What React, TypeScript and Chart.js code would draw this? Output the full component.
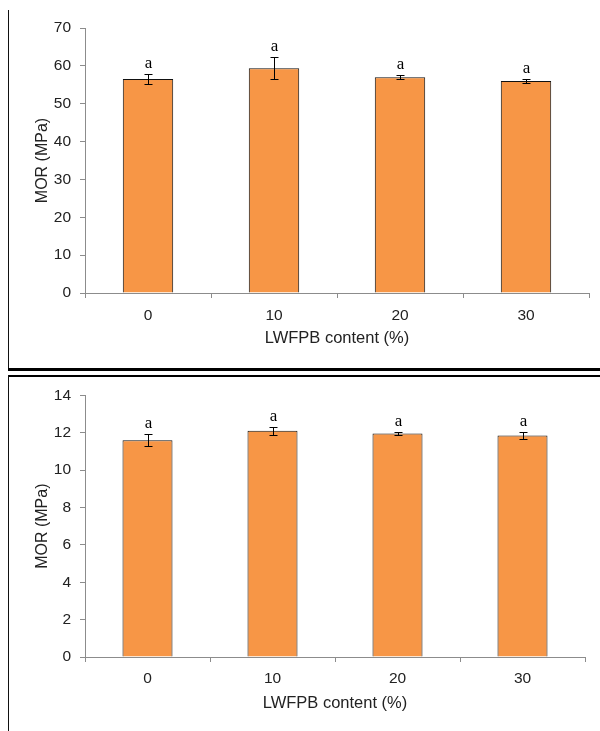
import React, { useEffect, useRef } from "react";
import { Chart, registerables } from "chart.js";

Chart.register(...registerables);

const categories = ["0", "10", "20", "30"];

const topValues = [56.5, 59.4, 57.0, 56.0];
const topErrors = [1.3, 3.0, 0.5, 0.6];
const topLetters = ["a", "a", "a", "a"];
const topYMax = 70;
const topYStep = 10;

const bottomValues = [11.6, 12.1, 11.95, 11.85];
const bottomErrors = [0.32, 0.21, 0.1, 0.2];
const bottomLetters = ["a", "a", "a", "a"];
const bottomYMax = 14;
const bottomYStep = 2;

const yTitle = "MOR (MPa)";
const xTitle = "LWFPB content (%)";

const SANS = '"Liberation Sans", Arial, sans-serif';
const SERIF = '"Liberation Serif", "Times New Roman", serif';

function makeErrorPlugin(values: number[], errors: number[], letters: string[]) {
  return {
    id: "errbars",
    afterDatasetsDraw(chart: any) {
      const ctx = chart.ctx;
      const meta = chart.getDatasetMeta(0);
      const ys = chart.scales.y;
      ctx.save();
      ctx.strokeStyle = "#000";
      ctx.lineWidth = 1;
      meta.data.forEach((bar: any, i: number) => {
        const x = Math.round(bar.x) + 0.5;
        const yHi = Math.round(ys.getPixelForValue(values[i] + errors[i])) + 0.5;
        const yLo = Math.round(ys.getPixelForValue(values[i] - errors[i])) + 0.5;
        ctx.beginPath();
        ctx.moveTo(x, yHi);
        ctx.lineTo(x, yLo);
        ctx.moveTo(x - 4, yHi);
        ctx.lineTo(x + 4, yHi);
        ctx.moveTo(x - 4, yLo);
        ctx.lineTo(x + 4, yLo);
        ctx.stroke();
        ctx.fillStyle = "#000";
        ctx.font = `17px ${SERIF}`;
        ctx.textAlign = "center";
        ctx.textBaseline = "alphabetic";
        ctx.fillText(letters[i], x, yHi - 7);
      });
      ctx.restore();
    },
  };
}

type Props = {
  values: number[];
  errors: number[];
  letters: string[];
  yMax: number;
  yStep: number;
  width: number;
  height: number;
  padTop: number;
  padRight: number;
  xAxisHeight: number;
  tickPad: number;
  titlePadBottom: number;
};

function BarChart(p: Props) {
  const ref = useRef<HTMLCanvasElement | null>(null);
  useEffect(() => {
    if (!ref.current) return;
    const chart = new Chart(ref.current, {
      type: "bar",
      data: {
        labels: categories,
        datasets: [
          {
            data: p.values,
            backgroundColor: "#F79646",
            borderColor: "#111",
            borderWidth: 1,
            barPercentage: 0.4,
            categoryPercentage: 1,
          },
        ],
      },
      options: {
        responsive: false,
        maintainAspectRatio: false,
        animation: false,
        layout: { padding: { top: p.padTop, right: p.padRight, left: 0, bottom: 0 } },
        plugins: { legend: { display: false }, tooltip: { enabled: false } },
        scales: {
          x: {
            grid: { display: true, drawOnChartArea: false, offset: true, tickLength: 5, color: "#8c8c8c" },
            border: { display: true, color: "#8c8c8c" },
            ticks: { color: "#222", font: { family: SANS, size: 15.5 }, padding: p.tickPad },
            title: {
              display: true,
              text: xTitle,
              color: "#222",
              font: { family: SANS, size: 16.5 },
              padding: { top: 0, bottom: p.titlePadBottom },
            },
            afterFit: (s: any) => {
              s.height = p.xAxisHeight;
            },
          },
          y: {
            min: 0,
            max: p.yMax,
            ticks: { stepSize: p.yStep, color: "#222", font: { family: SANS, size: 15.5 }, padding: 9 },
            grid: { display: true, drawOnChartArea: false, tickLength: 5, color: "#8c8c8c" },
            border: { display: true, color: "#8c8c8c" },
            title: {
              display: true,
              text: yTitle,
              color: "#222",
              font: { family: SANS, size: 16 },
              padding: { top: 33, bottom: 0 },
            },
            afterFit: (s: any) => {
              s.width = 85;
            },
          },
        },
      } as any,
      plugins: [makeErrorPlugin(p.values, p.errors, p.letters)],
    });
    return () => chart.destroy();
  }, []);
  return (
    <canvas
      ref={ref}
      width={p.width}
      height={p.height}
      style={{ width: p.width, height: p.height, display: "block" }}
    />
  );
}

export default function App() {
  return (
    <div style={{ position: "absolute", left: 0, top: 0, width: 600, height: 731, background: "#fff", overflow: "hidden" }}>
      <div style={{ position: "absolute", left: 0, top: 0 }}>
        <BarChart
          values={topValues}
          errors={topErrors}
          letters={topLetters}
          yMax={topYMax}
          yStep={topYStep}
          width={600}
          height={366}
          padTop={28}
          padRight={11}
          xAxisHeight={73}
          tickPad={8}
          titlePadBottom={18}
        />
      </div>
      <div style={{ position: "absolute", left: 0, top: 377 }}>
        <BarChart
          values={bottomValues}
          errors={bottomErrors}
          letters={bottomLetters}
          yMax={bottomYMax}
          yStep={bottomYStep}
          width={600}
          height={354}
          padTop={17}
          padRight={15}
          xAxisHeight={74}
          tickPad={7}
          titlePadBottom={18}
        />
      </div>
      <div style={{ position: "absolute", left: 8, top: 10, width: 1, height: 358, background: "#111" }} />
      <div style={{ position: "absolute", left: 8, top: 368, width: 592, height: 3, background: "#000" }} />
      <div style={{ position: "absolute", left: 8, top: 375, width: 592, height: 2, background: "#000" }} />
      <div style={{ position: "absolute", left: 8, top: 375, width: 1, height: 356, background: "#111" }} />
    </div>
  );
}
